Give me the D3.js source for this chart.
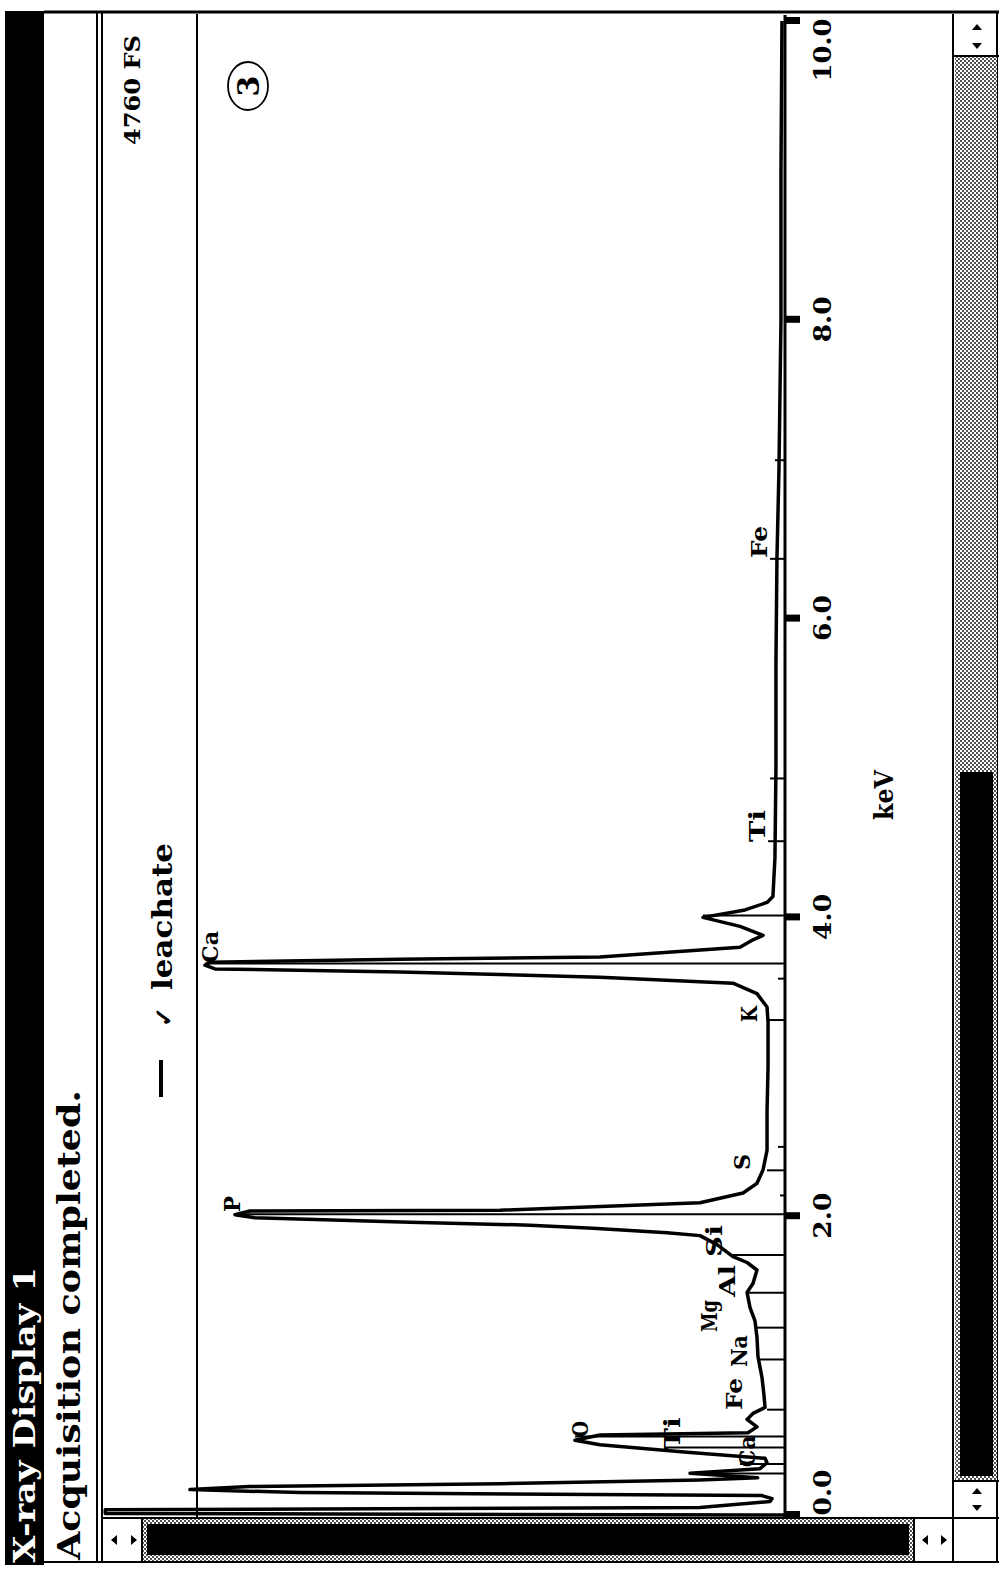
<!DOCTYPE html>
<html>
<head>
<meta charset="utf-8">
<script src="https://cdn.jsdelivr.net/npm/d3@7"></script>
<style>
  body { margin: 0; background: #fff; }
  svg { display: block; }
  text { font-family: "DejaVu Serif", "Liberation Serif", serif; font-weight: bold; }
</style>
</head>
<body>
<svg id="chart" width="999" height="1570"></svg>
<script>
// spectrum: energy in keV, counts
var energy = [0.000, 0.010, 0.035, 0.050, 0.090, 0.110, 0.130, 0.150, 0.170, 0.190, 0.210, 0.235,
  0.250, 0.280, 0.310, 0.350, 0.380, 0.420, 0.470, 0.500, 0.535, 0.550, 0.590, 0.640, 0.680,
  0.720, 0.800, 0.920, 1.060, 1.190, 1.300, 1.390, 1.490, 1.550, 1.640, 1.690, 1.730, 1.810,
  1.870, 1.890, 1.920, 1.940, 1.960, 1.990, 2.010, 2.035, 2.040, 2.090, 2.155, 2.220, 2.310,
  2.440, 2.700, 3.000, 3.300, 3.400, 3.490, 3.560, 3.600, 3.635, 3.655, 3.680, 3.700, 3.720,
  3.735, 3.800, 3.850, 3.880, 3.940, 4.000, 4.050, 4.100, 4.140, 4.400, 5.000, 5.700, 6.400,
  7.000, 8.000, 9.000, 10.000];
var counts = [0, 4730, 4730, 592, 104, 90, 160, 3375, 4141, 3724, 1984, 592,
  190, 661, 174, 125, 139, 682, 1288, 1462, 1288, 258, 195, 264, 223,
  139, 146, 160, 188, 195, 209, 244, 264, 223, 195, 264, 362, 473,
  592, 821, 1336, 1775, 2610, 3689, 3828, 3724, 1984, 592, 292, 195, 153,
  125, 125, 118, 118, 125, 195, 362, 1288, 2680, 3967, 4037, 4002, 2680,
  1288, 313, 223, 153, 313, 571, 278, 125, 84, 70, 63, 63, 56,
  42, 28, 28, 21];

// element marker lines (keV, marker height in counts)
var markerE = [0.277, 0.341, 0.452, 0.525, 0.705, 1.041, 1.254, 1.487, 1.740, 2.013, 2.139, 2.307,
  2.464, 3.313, 3.590, 3.691, 4.013, 4.510, 4.930, 6.400, 7.060];
var markerH = [661, 313, 842, 1461, 125, 174, 195, 264, 362, 3807, 35, 125,
  49, 118, 49, 4036, 571, 118, 104, 104, 70];

// element labels (text, keV at text start, counts at baseline)
var labelText = ["Ca", "P", "S", "K", "Ti", "Fe", "Si", "Al", "Mg", "Na", "Fe", "O", "Ti", "Ca"];
var labelE = [3.695, 2.028, 2.309, 3.30, 4.505, 6.405, 1.727, 1.459, 1.225, 0.99, 0.703, 0.522, 0.44, 0.32];
var labelC = [3946, 3793, 244, 195, 139, 125, 438, 348, 473, 264, 299, 1371, 731, 209];

var tickValues = [0, 2, 4, 6, 8, 10];
var fullScale = 4760;
var seriesName = "leachate";

var svg = d3.select("#chart");

// stipple pattern for the scroll bars
var pat = svg.append("defs").append("pattern").attr("id", "stip")
  .attr("width", 4).attr("height", 4).attr("patternUnits", "userSpaceOnUse");
pat.append("rect").attr("width", 4).attr("height", 4).attr("fill", "#fff");
pat.append("circle").attr("cx", 1).attr("cy", 1).attr("r", 0.9).attr("fill", "#000");
pat.append("circle").attr("cx", 3).attr("cy", 3).attr("r", 0.9).attr("fill", "#000");

////////////////////////////////////////////////////////////////////////////
// window chrome, drawn in screen coordinates
var chrome = svg.append("g");

function hline(x1, x2, y, w) {
  chrome.append("line").attr("x1", x1).attr("x2", x2).attr("y1", y).attr("y2", y)
    .attr("stroke", "#000").attr("stroke-width", w || 2);
}
function vline(x, y1, y2, w) {
  chrome.append("line").attr("x1", x).attr("x2", x).attr("y1", y1).attr("y2", y2)
    .attr("stroke", "#000").attr("stroke-width", w || 2);
}
function tri(cx, cy, dir) {
  var s = 5, p;
  if (dir == "up") p = [[cx - s, cy + s * 0.6], [cx + s, cy + s * 0.6], [cx, cy - s * 0.6]];
  if (dir == "down") p = [[cx - s, cy - s * 0.6], [cx + s, cy - s * 0.6], [cx, cy + s * 0.6]];
  if (dir == "left") p = [[cx + s * 0.6, cy - s], [cx + s * 0.6, cy + s], [cx - s * 0.6, cy]];
  if (dir == "right") p = [[cx - s * 0.6, cy - s], [cx - s * 0.6, cy + s], [cx + s * 0.6, cy]];
  chrome.append("path").attr("d", "M" + p.join("L") + "Z").attr("fill", "#000");
}

// title bar
chrome.append("rect").attr("x", 5).attr("y", 11).attr("width", 39).attr("height", 1554).attr("fill", "#000");
hline(44, 999, 12, 3);
hline(44, 999, 1562, 2);
vline(97, 12, 1563);
vline(102, 12, 1563);
vline(197, 14, 1517);
vline(953, 14, 1563);
vline(997, 12, 1563);
hline(102, 999, 1518);

// right scroll bar
chrome.append("rect").attr("x", 955).attr("y", 57).attr("width", 42).attr("height", 1423).attr("fill", "url(#stip)");
chrome.append("rect").attr("x", 960).attr("y", 772).attr("width", 33).attr("height", 704).attr("fill", "#000");
hline(953, 999, 56);
hline(953, 999, 1481);
tri(977, 27, "up"); tri(977, 46, "down");
tri(977, 1491, "up"); tri(977, 1508, "down");

// bottom scroll bar
chrome.append("rect").attr("x", 143).attr("y", 1519).attr("width", 771).attr("height", 42).attr("fill", "url(#stip)");
chrome.append("rect").attr("x", 147).attr("y", 1524).attr("width", 762).attr("height", 31).attr("fill", "#000");
vline(142, 1518, 1562);
vline(914, 1518, 1562);
tri(114, 1540, "left"); tri(134, 1540, "right");
tri(925, 1540, "left"); tri(944, 1540, "right");

////////////////////////////////////////////////////////////////////////////
// the display itself, drawn upright then turned a quarter to the left
var g = svg.append("g").attr("transform", "translate(0,1570) rotate(-90)");

g.append("text").attr("x", 7).attr("y", 35).attr("fill", "#fff")
  .attr("font-size", 29).attr("textLength", 296).attr("lengthAdjust", "spacingAndGlyphs")
  .text("X-ray Display 1");
g.append("text").attr("x", 10).attr("y", 80).attr("fill", "#000")
  .attr("font-size", 32).attr("textLength", 470).attr("lengthAdjust", "spacingAndGlyphs")
  .text("Acquisition completed.");

var x = d3.scaleLinear().domain([0, 10]).range([55, 1549]);
var y = d3.scaleLinear().domain([0, fullScale]).range([785, 101]);

// axis
var axis = g.append("g").attr("transform", "translate(0," + y(0) + ")")
  .call(d3.axisBottom(x).tickValues(tickValues).tickFormat(d3.format(".1f"))
    .tickSize(15).tickSizeOuter(0).tickPadding(13));
axis.select(".domain").attr("stroke-width", 3)
  .attr("d", "M" + (x(0) - 2) + ",0H" + (x(10) + 6));
axis.selectAll(".tick line").attr("stroke-width", 7);
axis.selectAll(".tick text").attr("font-size", 25).attr("font-family", "DejaVu Serif")
  .attr("font-weight", "bold").attr("fill", "#000")
  .attr("textLength", function (d) { return d == 10 ? 63 : 46; })
  .attr("lengthAdjust", "spacingAndGlyphs")
  .attr("text-anchor", function (d) { return d == 0 ? "start" : (d == 10 ? "end" : "middle"); })
  .attr("dx", function (d) { return d == 0 ? -1 : (d == 10 ? 2 : 0); });

g.append("text").attr("x", 775).attr("y", 893).attr("text-anchor", "middle")
  .attr("font-size", 26).attr("textLength", 50).attr("lengthAdjust", "spacingAndGlyphs").text("keV");

g.append("text").attr("x", 1535).attr("y", 140).attr("text-anchor", "end")
  .attr("font-size", 23).attr("textLength", 110).attr("lengthAdjust", "spacingAndGlyphs")
  .text(fullScale + " FS");

// legend
g.append("line").attr("x1", 473).attr("x2", 510).attr("y1", 161).attr("y2", 161)
  .attr("stroke", "#000").attr("stroke-width", 4);
g.append("text").attr("x", 543).attr("y", 172).attr("font-family", "DejaVu Sans")
  .attr("font-size", 24).attr("font-weight", "bold").text("\u2713");
g.append("text").attr("x", 580).attr("y", 172).attr("font-size", 27)
  .attr("textLength", 147).attr("lengthAdjust", "spacingAndGlyphs").text(seriesName);

// handwritten circled 3
g.append("ellipse").attr("cx", 1484).attr("cy", 248).attr("rx", 24).attr("ry", 20)
  .attr("fill", "none").attr("stroke", "#000").attr("stroke-width", 1.8);
g.append("text").attr("x", 1484).attr("y", 259).attr("text-anchor", "middle")
  .attr("font-family", "DejaVu Sans").attr("font-weight", "normal").attr("font-size", 30).text("3");

// element labels
labelText.forEach(function (t, i) {
  g.append("text").attr("x", x(labelE[i])).attr("y", y(labelC[i]))
    .attr("font-size", 22).attr("textLength", 16 * t.length)
    .attr("lengthAdjust", "spacingAndGlyphs").text(t);
});

// marker lines
markerE.forEach(function (e, i) {
  g.append("line").attr("x1", x(e)).attr("x2", x(e))
    .attr("y1", y(0)).attr("y2", y(markerH[i]))
    .attr("stroke", "#000").attr("stroke-width", 2);
});

// spectrum
var pts = energy.map(function (e, i) { return [e, counts[i]]; });
var line = d3.line().x(function (d) { return x(d[0]); }).y(function (d) { return y(d[1]); });
g.append("path").datum(pts).attr("d", line).attr("fill", "none")
  .attr("stroke", "#000").attr("stroke-width", 3.5).attr("stroke-linejoin", "round");
</script>
</body>
</html>
